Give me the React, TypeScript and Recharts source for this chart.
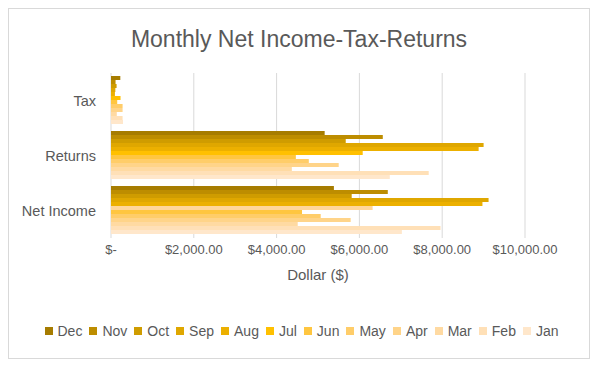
import React from 'react';
import { BarChart, Bar, XAxis, YAxis, CartesianGrid, Legend, Cell } from 'recharts';

const categories = ['Tax', 'Returns', 'Net Income'];
const months = ['Dec', 'Nov', 'Oct', 'Sep', 'Aug', 'Jul', 'Jun', 'May', 'Apr', 'Mar', 'Feb', 'Jan'];
const taxValues = [225, 110, 135, 105, 95, 230, 150, 280, 280, 140, 280, 290];
const returnsValues = [5161, 6565, 5670, 9000, 8880, 6080, 4465, 4778, 5500, 4368, 7674, 6734];
const netIncomeValues = [5384, 6686, 5814, 9120, 8972, 6319, 4614, 5065, 5789, 4510, 7959, 7026];
const xTicks = [0, 2000, 4000, 6000, 8000, 10000];

const monthColors = [
  '#A67C00', '#BD8D00', '#CF9C00', '#DFA700', '#ECB000', '#FFC000',
  '#FFC640', '#FFCD69', '#FFD489', '#FFDAA2', '#FFE0B7', '#FFE7CB',
];
const julNetIncomeColor = '#FFD699';

const FONT = '"Liberation Sans", Arial, sans-serif';
const TEXT = '#595959';

const seriesByCategory = [taxValues, returnsValues, netIncomeValues];
const data = categories.map((name, ci) => {
  const row: Record<string, string | number> = { name };
  months.forEach((m, mi) => {
    row[m] = seriesByCategory[ci][mi];
  });
  return row;
});

const fmt = (v: number) =>
  v === 0 ? '$-' : '$' + v.toLocaleString('en-US', { minimumFractionDigits: 2, maximumFractionDigits: 2 });

const renderLegend = () => (
  <div
    style={{
      display: 'flex',
      justifyContent: 'center',
      alignItems: 'center',
      height: 16,
      fontFamily: FONT,
      fontSize: 14,
      color: TEXT,
      paddingLeft: 5,
    }}
  >
    {months.map((m, i) => (
      <span key={m} style={{ display: 'flex', alignItems: 'center', marginRight: i < months.length - 1 ? 7 : 0 }}>
        <span style={{ display: 'inline-block', width: 8, height: 8, background: monthColors[i], marginRight: 5 }} />
        <span>{m}</span>
      </span>
    ))}
  </div>
);

export default function App() {
  return (
    <div
      style={{
        position: 'relative',
        width: 580,
        height: 349,
        border: '1px solid #D9D9D9',
        background: '#FFFFFF',
      }}
    >
      <div
        style={{
          position: 'absolute',
          top: 17,
          left: 0,
          width: 580,
          textAlign: 'center',
          fontFamily: FONT,
          fontSize: 23,
          lineHeight: '27px',
          color: TEXT,
        }}
      >
        Monthly Net Income-Tax-Returns
      </div>
      <BarChart
        width={580}
        height={349}
        data={data}
        layout="vertical"
        margin={{ top: 64, right: 64, bottom: 54, left: 0 }}
        barCategoryGap={3}
        barGap={0}
      >
        <CartesianGrid horizontal={false} stroke="#D9D9D9" />
        <XAxis
          type="number"
          domain={[0, 10000]}
          ticks={xTicks}
          tickFormatter={fmt}
          axisLine={false}
          tickLine={false}
          tickSize={5}
          height={50}
          tick={{ fill: TEXT, fontSize: 13, fontFamily: FONT }}
          label={{ value: 'Dollar ($)', position: 'insideBottom', offset: 8, fill: TEXT, fontSize: 15, fontFamily: FONT }}
        />
        <YAxis
          type="category"
          dataKey="name"
          width={102}
          axisLine={false}
          tickLine={false}
          tickSize={6}
          tickMargin={9}
          tick={{ fill: TEXT, fontSize: 14.5, fontFamily: FONT }}
        />
        <Legend
          verticalAlign="bottom"
          content={renderLegend}
          wrapperStyle={{ bottom: 19, left: 0, width: 580 }}
        />
        {months.map((m, i) => (
          <Bar key={m} dataKey={m} fill={monthColors[i]} isAnimationActive={false}>
            {m === 'Jul'
              ? data.map((d) => (
                  <Cell key={String(d.name)} fill={d.name === 'Net Income' ? julNetIncomeColor : monthColors[i]} />
                ))
              : null}
          </Bar>
        ))}
      </BarChart>
    </div>
  );
}
